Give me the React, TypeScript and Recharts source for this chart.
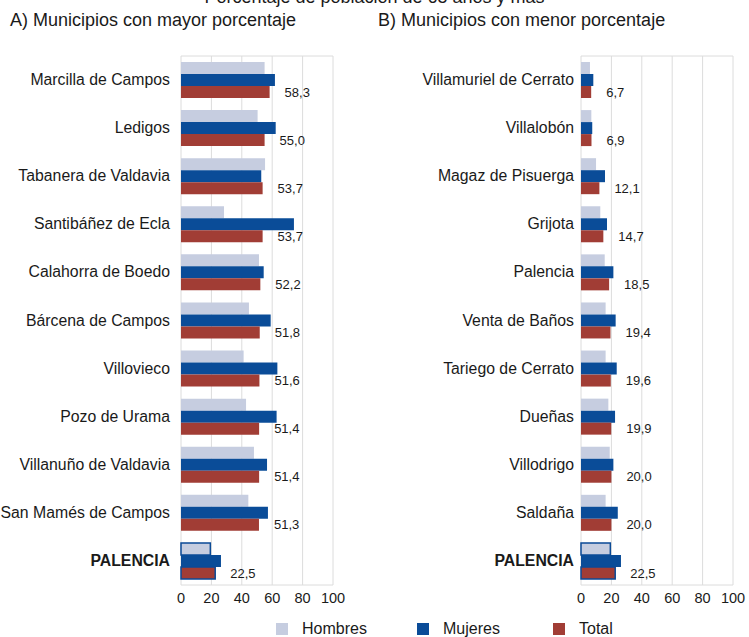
import React from 'react'
import { BarChart, Bar, XAxis, YAxis, CartesianGrid, LabelList, Cell } from 'recharts'

// A) municipios con mayor porcentaje
const mayorMunicipios = [
  'Marcilla de Campos', 'Ledigos', 'Tabanera de Valdavia', 'Santibáñez de Ecla', 'Calahorra de Boedo',
  'Bárcena de Campos', 'Villovieco', 'Pozo de Urama', 'Villanuño de Valdavia', 'San Mamés de Campos', 'PALENCIA',
]
const mayorHombres = [55.0, 50.4, 55.3, 28.3, 51.3, 44.7, 41.2, 42.8, 48.0, 44.3, 19.3]
const mayorMujeres = [61.8, 62.3, 52.8, 74.3, 54.4, 59.0, 63.4, 62.9, 56.6, 57.2, 26.3]
const mayorTotal = [58.3, 55.0, 53.7, 53.7, 52.2, 51.8, 51.6, 51.4, 51.4, 51.3, 22.5]

// B) municipios con menor porcentaje
const menorMunicipios = [
  'Villamuriel de Cerrato', 'Villalobón', 'Magaz de Pisuerga', 'Grijota', 'Palencia',
  'Venta de Baños', 'Tariego de Cerrato', 'Dueñas', 'Villodrigo', 'Saldaña', 'PALENCIA',
]
const menorHombres = [5.9, 6.8, 9.9, 12.7, 15.6, 16.2, 16.2, 18.0, 18.9, 16.2, 19.3]
const menorMujeres = [8.1, 7.4, 15.8, 17.1, 21.3, 22.8, 23.5, 22.4, 21.3, 24.2, 26.3]
const menorTotal = [6.7, 6.9, 12.1, 14.7, 18.5, 19.4, 19.6, 19.9, 20.0, 20.0, 22.5]

const xTicks = [0, 20, 40, 60, 80, 100]

const C_HOMBRES = '#c6cde0'
const C_MUJERES = '#0a4c98'
const C_TOTAL = '#a13d35'
const C_EDGE = '#0b4a96'

const FONT = '"Liberation Sans", Arial, sans-serif'

const fmt = (v: any) => Number(v).toFixed(1).replace('.', ',')

function CatTick(props: any) {
  const { x, y, payload } = props
  const bold = payload.value === 'PALENCIA'
  return (
    <text x={x} y={y} dy={5} textAnchor="end" fontSize={15.8} fontFamily={FONT}
      fontWeight={bold ? 'bold' : 'normal'} fill="#1a1a1a">
      {payload.value}
    </text>
  )
}

function Panel({ names, h, m, t, yWidth, right, tickGap }: {
  names: string[]; h: number[]; m: number[]; t: number[]; yWidth: number; right: number; tickGap: number
}) {
  const rows = names.map((name, i) => ({ name, hombres: h[i], mujeres: m[i], total: t[i] }))
  const last = rows.length - 1
  return (
    <BarChart
      width={yWidth + 152 + right}
      height={637}
      data={rows}
      layout="vertical"
      margin={{ top: 56, right, bottom: 22, left: 0 }}
      barSize={12}
      barGap={0}
    >
      <CartesianGrid
        stroke="#dcdcdc"
        horizontalCoordinatesGenerator={(p: any) => [p.offset.top, p.offset.top + p.offset.height]}
      />
      <XAxis type="number" domain={[0, 100]} ticks={xTicks} axisLine={false} tickLine={false}
        tick={{ fontSize: 14.5, fill: '#1a1a1a', fontFamily: FONT }} />
      <YAxis type="category" dataKey="name" width={yWidth} axisLine={false} tickLine={false}
        tickSize={0} tickMargin={tickGap} tick={<CatTick />} interval={0} />
      <Bar dataKey="hombres" fill={C_HOMBRES} isAnimationActive={false}>
        {rows.map((_, i) => (
          <Cell key={i} fill={C_HOMBRES} stroke={i === last ? C_EDGE : 'none'} strokeWidth={1.5} />
        ))}
      </Bar>
      <Bar dataKey="mujeres" fill={C_MUJERES} isAnimationActive={false} />
      <Bar dataKey="total" fill={C_TOTAL} isAnimationActive={false}>
        {rows.map((_, i) => (
          <Cell key={i} fill={C_TOTAL} stroke={i === last ? C_EDGE : 'none'} strokeWidth={1.5} />
        ))}
        <LabelList dataKey="total" position="right" offset={15} formatter={fmt}
          style={{ fontSize: 13, fill: '#1a1a1a', fontFamily: FONT }} />
      </Bar>
    </BarChart>
  )
}

const legendItems = [
  { label: 'Hombres', color: C_HOMBRES, x: 276 },
  { label: 'Mujeres', color: C_MUJERES, x: 417 },
  { label: 'Total', color: C_TOTAL, x: 553 },
]

export default function App() {
  return (
    <div style={{ position: 'absolute', left: 0, top: 0, width: 749, height: 637, overflow: 'hidden', background: '#fff', fontFamily: FONT, color: '#1a1a1a' }}>
      <div style={{ position: 'absolute', top: -13, left: 0, width: 749, textAlign: 'center', fontSize: 18 }}>
        Porcentaje de población de 65 años y más
      </div>
      <div style={{ position: 'absolute', top: 10, left: 10, fontSize: 18 }}>A) Municipios con mayor porcentaje</div>
      <div style={{ position: 'absolute', top: 10, left: 378, fontSize: 18 }}>B) Municipios con menor porcentaje</div>

      <div style={{ position: 'absolute', left: 0, top: 0 }}>
        <Panel names={mayorMunicipios} h={mayorHombres} m={mayorMujeres} t={mayorTotal} yWidth={181} right={42} tickGap={11} />
      </div>
      <div style={{ position: 'absolute', left: 375, top: 0 }}>
        <Panel names={menorMunicipios} h={menorHombres} m={menorMujeres} t={menorTotal} yWidth={206} right={16} tickGap={7} />
      </div>

      {legendItems.map((it) => (
        <div key={it.label} style={{ position: 'absolute', left: it.x, top: 621, display: 'flex', alignItems: 'center' }}>
          <div style={{ width: 12, height: 12, background: it.color }} />
          <span style={{ marginLeft: 14, fontSize: 16, lineHeight: '16px' }}>{it.label}</span>
        </div>
      ))}
    </div>
  )
}
